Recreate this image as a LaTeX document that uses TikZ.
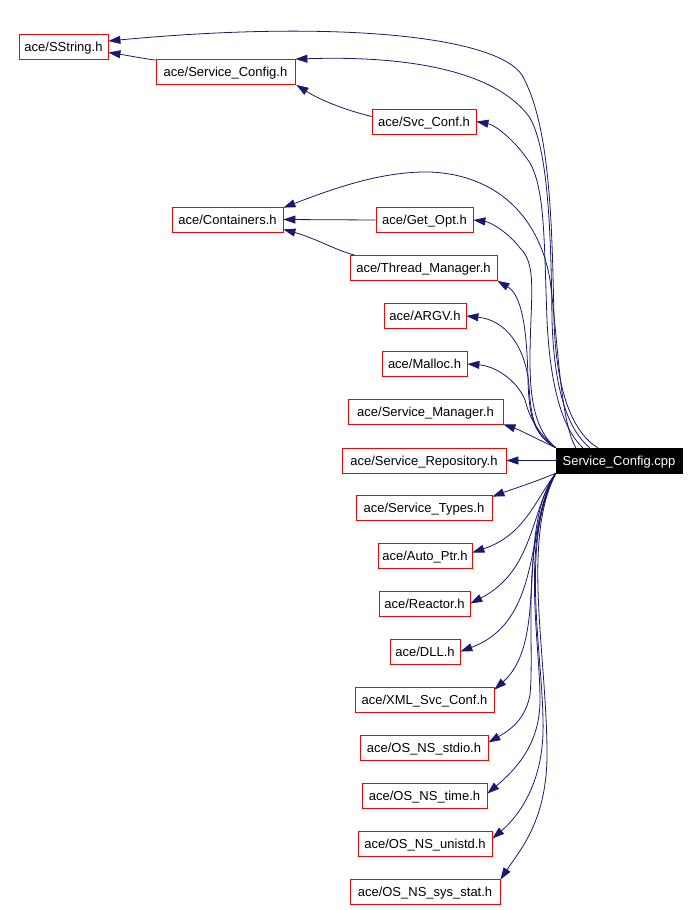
\documentclass[tikz,border=0pt]{standalone}
\usepackage{fontspec}
\setmainfont{Liberation Sans}
\usetikzlibrary{arrows.meta,calc}
\definecolor{edgeblue}{RGB}{25,25,112}
\begin{document}
\begin{tikzpicture}[x=1pt,y=-1pt,
  hdr/.style={draw=red,fill=white,line width=0.8pt,minimum height=25pt,inner sep=0pt,
    text height=11pt,text depth=1.7pt,font=\fontsize{13}{15}\selectfont},
  cppbox/.style={draw=black,fill=black,text=white,minimum height=25pt,inner sep=0pt,
    text height=11pt,text depth=1.7pt,font=\fontsize{13}{15}\selectfont},
  edge/.style={draw=edgeblue,line width=0.8pt,-{Triangle[length=12pt,width=8pt]}}]
\useasboundingbox (0,0) rectangle (699,910);
\fill[white] (0,0) rectangle (699,910);

\node[hdr,minimum width=89pt]  (SString) at (63.5,46.5) {ace/SString.h};
\node[hdr,minimum width=139pt] (SConfig) at (225.5,72) {ace/Service\_Config.h};
\node[hdr,minimum width=104pt] (SvcConf) at (424,121.5) {ace/Svc\_Conf.h};
\node[hdr,minimum width=111pt] (Cont) at (227.5,219.5) {ace/Containers.h};
\node[hdr,minimum width=97pt]  (GetOpt) at (424.5,220) {ace/Get\_Opt.h};
\node[hdr,minimum width=147pt] (Thread) at (423.5,268) {ace/Thread\_Manager.h};
\node[hdr,minimum width=82pt]  (ARGV) at (425,316) {ace/ARGV.h};
\node[hdr,minimum width=85pt]  (Malloc) at (424.5,364) {ace/Malloc.h};
\node[hdr,minimum width=155pt] (SMan) at (425.5,411.5) {ace/Service\_Manager.h};
\node[hdr,minimum width=164pt] (SRep) at (424,460.5) {ace/Service\_Repository.h};
\node[hdr,minimum width=136pt] (STypes) at (424,507.5) {ace/Service\_Types.h};
\node[hdr,minimum width=94pt]  (AutoPtr) at (425,555.5) {ace/Auto\_Ptr.h};
\node[hdr,minimum width=91pt]  (Reactor) at (424.5,603.5) {ace/Reactor.h};
\node[hdr,minimum width=70pt]  (DLL) at (425,651.5) {ace/DLL.h};
\node[hdr,minimum width=139pt] (XML) at (424.5,699.5) {ace/XML\_Svc\_Conf.h};
\node[hdr,minimum width=128pt] (Stdio) at (424,747.5) {ace/OS\_NS\_stdio.h};
\node[hdr,minimum width=125pt] (Time) at (424.5,795.5) {ace/OS\_NS\_time.h};
\node[hdr,minimum width=134pt] (Unistd) at (425,843.5) {ace/OS\_NS\_unistd.h};
\node[hdr,minimum width=150pt] (SysStat) at (425,891.5) {ace/OS\_NS\_sys\_stat.h};
\node[cppbox,minimum width=126pt] (cpp) at (619,460.5) {Service\_Config.cpp};

% header-to-header
\draw[edge] ($(SConfig.north west)+(0,1)$) .. controls (140,58) and (125,55) .. ($(SString.east)+(0,6)$);
\draw[edge] ($(SvcConf.west)+(0,-5)$) .. controls (345,110) and (320,100) .. ($(SConfig.south east)+(1,0)$);
\draw[edge] (GetOpt.west) -- (Cont.east);
\draw[edge] ($(Thread.north west)+(5,0)$) .. controls (335,250) and (315,238) .. ($(Cont.south east)+(0,-3)$);

% cpp upper bundle
\draw[edge] ($(cpp.north west)+(42,0)$) .. controls (572,432) and (556,390) .. (554,320)
  .. controls (552,220) and (550,125) .. (522,75) .. controls (495,35) and (330,20) .. ($(SString.east)+(0,-5.5)$);
\draw[edge] ($(cpp.north west)+(34,0)$) .. controls (568,430) and (554,390) .. (552,320)
  .. controls (551,230) and (548,150) .. (530,118) .. controls (500,75) and (420,55) .. (SConfig.north east);
\draw[edge] ($(cpp.north west)+(27,0)$) .. controls (562,428) and (550,385) .. (547,320)
  .. controls (544,240) and (545,190) .. (530,163) .. controls (515,140) and (495,125) .. (SvcConf.east);
\draw[edge] ($(cpp.north west)+(20,0)$) .. controls (560,420) and (558,340) .. (550,280)
  .. controls (540,220) and (500,175) .. (430,172) .. controls (380,171) and (330,190) .. ($(Cont.north east)+(0,1)$);

% cpp upper-left fan
\draw[edge] (cpp.north west) .. controls (535,430) and (530,400) .. (530,360)
  .. controls (530,300) and (538,265) .. (520,248) .. controls (508,232) and (490,222) .. (GetOpt.east);
\draw[edge] (cpp.north west) .. controls (535,435) and (529,420) .. (528,380)
  .. controls (527,330) and (522,295) .. (Thread.south east);
\draw[edge] (cpp.north west) .. controls (535,435) and (531,420) .. (529,385)
  .. controls (525,345) and (505,320) .. (ARGV.east);
\draw[edge] (cpp.north west) .. controls (540,435) and (530,420) .. (525,400)
  .. controls (517,380) and (495,366) .. (Malloc.east);
\draw[edge] (cpp.north west) .. controls (535,438) and (520,430) .. (SMan.south east);
\draw[edge] (cpp.west) -- (SRep.east);

% cpp lower fan
\draw[edge] (cpp.south west) .. controls (535,482) and (510,490) .. ($(STypes.north east)+(0,2)$);
\draw[edge] (cpp.south west) .. controls (535,500) and (525,535) .. ($(AutoPtr.east)+(0,-3)$);
\draw[edge] (cpp.south west) .. controls (530,510) and (535,570) .. (Reactor.east);
\draw[edge] (cpp.south west) .. controls (525,520) and (545,620) .. (DLL.east);
\draw[edge] (cpp.south west) .. controls (515,530) and (550,640) .. ($(XML.north east)+(0,3)$);
\draw[edge] (cpp.south west) .. controls (520,540) and (535,640) .. (530,695)
  .. controls (525,720) and (510,730) .. ($(Stdio.east)+(0,-5)$);
\draw[edge] (cpp.south west) .. controls (520,540) and (540,640) .. (540,700)
  .. controls (540,745) and (515,770) .. ($(Time.east)+(0,-2)$);
\draw[edge] (cpp.south west) .. controls (520,540) and (542,650) .. (543,720)
  .. controls (545,780) and (520,815) .. ($(Unistd.east)+(0,-5)$);
\draw[edge] (cpp.south west) .. controls (522,540) and (546,650) .. (547,750)
  .. controls (548,820) and (520,850) .. ($(SysStat.north east)+(0,1)$);
\end{tikzpicture}
\end{document}
